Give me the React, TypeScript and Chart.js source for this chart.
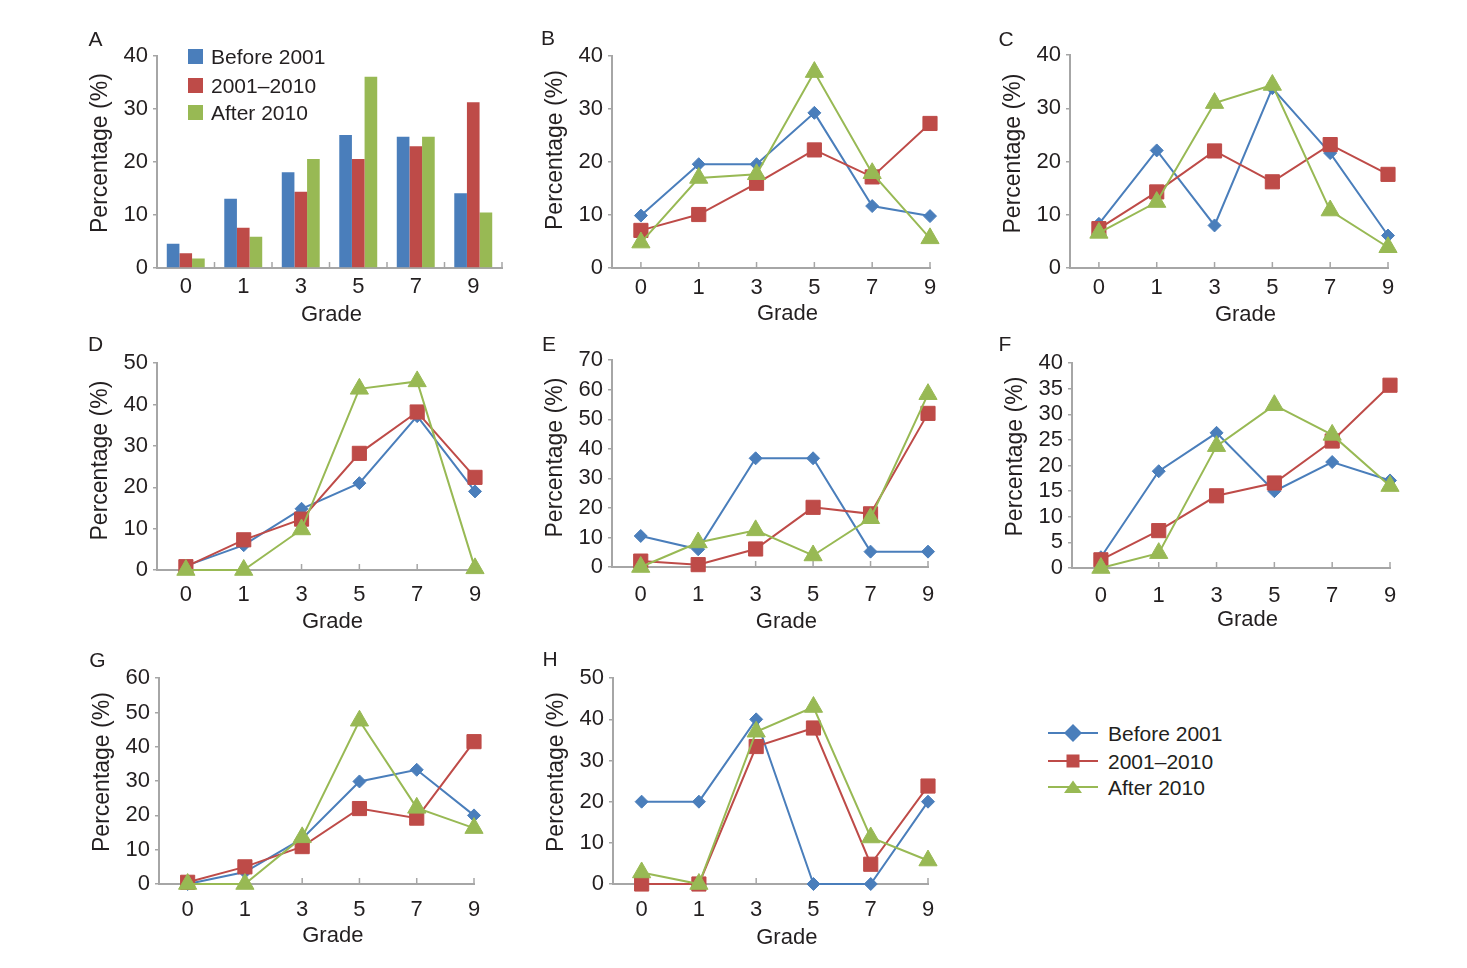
import { useEffect, useRef } from "react"
import { Chart, registerables } from "chart.js"

Chart.register(...registerables)

// grades on the x axis and the three time periods
const gradeLabels = ["0", "1", "3", "5", "7", "9"]
const seriesNames = ["Before 2001", "2001–2010", "After 2010"]
const seriesColors = ["#4a7ebb", "#be4b48", "#98b954"]
const pointStyles = ["rectRot", "rect", "triangle"]
const pointSizes = [6.5, 10, 10.5]

// panel A (bars)
const aBefore2001 = [4.6, 13.1, 18.1, 25.1, 24.8, 14.1]
const a2001to2010 = [2.8, 7.6, 14.4, 20.6, 23.0, 31.3]
const aAfter2010 = [1.8, 5.9, 20.6, 36.1, 24.8, 10.5]

// panels B-H (lines)
const bBefore2001 = [9.9, 19.6, 19.6, 29.3, 11.7, 9.8]
const b2001to2010 = [7.1, 10.1, 16.0, 22.3, 17.2, 27.3]
const bAfter2010 = [4.8, 17.0, 17.7, 37.0, 17.9, 5.6]

const cBefore2001 = [8.3, 22.1, 8.0, 33.8, 21.6, 6.1]
const c2001to2010 = [7.4, 14.3, 22.0, 16.2, 23.2, 17.6]
const cAfter2010 = [6.6, 12.4, 31.0, 34.4, 10.8, 3.9]

const dBefore2001 = [1.0, 6.0, 14.8, 21.0, 37.2, 19.0]
const d2001to2010 = [0.8, 7.3, 12.3, 28.2, 38.2, 22.4]
const dAfter2010 = [0, 0, 9.8, 43.8, 45.6, 0.4]

const eBefore2001 = [10.5, 6.0, 36.8, 36.8, 5.2, 5.2]
const e2001to2010 = [2.0, 0.8, 6.1, 20.2, 18.0, 52.0]
const eAfter2010 = [0, 8.3, 12.4, 3.9, 16.5, 58.5]

const fBefore2001 = [2.1, 18.9, 26.4, 15.0, 20.7, 17.1]
const f2001to2010 = [1.6, 7.3, 14.1, 16.6, 24.8, 35.7]
const fAfter2010 = [0, 2.9, 23.8, 31.8, 26.0, 16.0]

const gBefore2001 = [0, 3.5, 13.2, 29.9, 33.3, 20.0]
const g2001to2010 = [0.5, 5.0, 10.9, 22.0, 19.2, 41.5]
const gAfter2010 = [0, 0, 13.6, 47.6, 22.2, 16.3]

const hBefore2001 = [20, 20, 40, 0, 0, 20]
const h2001to2010 = [0, 0, 33.4, 37.9, 4.8, 23.8]
const hAfter2010 = [2.8, 0, 37.0, 43.0, 11.3, 5.7]

const fontFamily = '"Liberation Sans", Arial, sans-serif'
const ink = "#231f20"
const axisGray = "#a6a6a6"

// space around the plot area inside each canvas
const LEFT = 75
const TOP = 16
const RIGHT = 28
const BOTTOM = 64

interface PanelCfg {
  letter: string
  kind: "bar" | "line"
  series: number[][]
  yMax: number
  yStep: number
  axisX: number
  top: number
  bottom: number
  right: number
  labelGap: number
  titleGap: number
  yShift: number
  letterX: number
  letterY: number
}

const panels: PanelCfg[] = [
  { letter: "A", kind: "bar", series: [aBefore2001, a2001to2010, aAfter2010], yMax: 40, yStep: 10, axisX: 157, top: 54, bottom: 268, right: 502, labelGap: 19, titleGap: 47, yShift: -9, letterX: 95.5, letterY: 37.5 },
  { letter: "B", kind: "line", series: [bBefore2001, b2001to2010, bAfter2010], yMax: 40, yStep: 10, axisX: 612, top: 54, bottom: 268, right: 930, labelGap: 20, titleGap: 46, yShift: -12, letterX: 548, letterY: 37 },
  { letter: "C", kind: "line", series: [cBefore2001, c2001to2010, cAfter2010], yMax: 40, yStep: 10, axisX: 1070, top: 53, bottom: 268, right: 1388, labelGap: 20, titleGap: 47, yShift: -8, letterX: 1006, letterY: 37.5 },
  { letter: "D", kind: "line", series: [dBefore2001, d2001to2010, dAfter2010], yMax: 50, yStep: 10, axisX: 157, top: 361, bottom: 570, right: 475, labelGap: 25, titleGap: 52, yShift: -6, letterX: 95.5, letterY: 343 },
  { letter: "E", kind: "line", series: [eBefore2001, e2001to2010, eAfter2010], yMax: 70, yStep: 10, axisX: 612, top: 358, bottom: 567, right: 928, labelGap: 28, titleGap: 55, yShift: -6, letterX: 549, letterY: 343 },
  { letter: "F", kind: "line", series: [fBefore2001, f2001to2010, fAfter2010], yMax: 40, yStep: 5, axisX: 1072, top: 361, bottom: 568, right: 1390, labelGap: 28, titleGap: 52, yShift: -9, letterX: 1005, letterY: 343 },
  { letter: "G", kind: "line", series: [gBefore2001, g2001to2010, gAfter2010], yMax: 60, yStep: 10, axisX: 159, top: 676, bottom: 884, right: 474, labelGap: 26, titleGap: 52, yShift: -9, letterX: 97.5, letterY: 659 },
  { letter: "H", kind: "line", series: [hBefore2001, h2001to2010, hAfter2010], yMax: 50, yStep: 10, axisX: 613, top: 676, bottom: 884, right: 928, labelGap: 26, titleGap: 54, yShift: -9, letterX: 550, letterY: 658 },
]

// short tick marks pointing up into the plot from the x axis
const innerTicks = {
  id: "innerTicks",
  beforeDatasetsDraw(chart: any, _args: any, opts: any) {
    const x = chart.scales.x
    const ctx = chart.ctx
    const n = gradeLabels.length
    const positions: number[] = opts.bands
      ? Array.from({ length: n }, (_, i) => x.left + ((i + 1) * x.width) / n)
      : x.ticks.map((t: any) => x.getPixelForValue(t.value))
    ctx.save()
    ctx.strokeStyle = axisGray
    ctx.lineWidth = 1.5
    ctx.beginPath()
    positions.forEach((px) => {
      ctx.moveTo(px, x.top)
      ctx.lineTo(px, x.top - 6)
    })
    ctx.stroke()
    ctx.restore()
  },
}

// axis titles, placed like the original (Grade centred on the category marks)
const axisTitles = {
  id: "axisTitles",
  afterDraw(chart: any, _args: any, opts: any) {
    const { x, y } = chart.scales
    const ctx = chart.ctx
    ctx.save()
    ctx.fillStyle = ink
    ctx.textAlign = "center"
    ctx.textBaseline = "middle"
    ctx.font = `22px ${fontFamily}`
    const first = x.getPixelForTick(0)
    const last = x.getPixelForTick(x.ticks.length - 1)
    ctx.fillText("Grade", (first + last) / 2 + 2, x.top + opts.titleGap)
    ctx.font = `23px ${fontFamily}`
    ctx.translate(y.right - 56, (y.top + y.bottom) / 2 + opts.yShift)
    ctx.rotate(-Math.PI / 2)
    ctx.fillText("Percentage (%)", 0, 0)
    ctx.restore()
  },
}

function buildConfig(cfg: PanelCfg): any {
  const isBar = cfg.kind === "bar"
  const yScale = {
    min: 0,
    max: cfg.yMax,
    ticks: { stepSize: cfg.yStep, padding: 5, color: ink, font: { size: 22 }, autoSkip: false },
    grid: { drawOnChartArea: false, drawTicks: true, tickLength: 4, color: axisGray, lineWidth: 1.5 },
    border: { color: axisGray, width: 2 },
    afterFit: (s: any) => {
      s.width = LEFT
    },
  }
  const xCommon = {
    grid: { drawOnChartArea: false, drawTicks: false },
    border: { color: axisGray, width: 2 },
    afterFit: (s: any) => {
      s.height = BOTTOM
    },
  }
  const tickFont = { padding: cfg.labelGap - 13.2, color: ink, font: { size: 22 }, autoSkip: false, maxRotation: 0 }
  const pluginOpts = {
    legend: { display: false },
    tooltip: { enabled: false },
    innerTicks: { bands: isBar },
    axisTitles: { titleGap: cfg.titleGap, yShift: cfg.yShift },
  }
  const layout = { padding: { left: 0, top: TOP, right: RIGHT, bottom: 0 } }

  if (isBar) {
    return {
      type: "bar",
      data: {
        labels: gradeLabels,
        datasets: cfg.series.map((values, i) => ({
          label: seriesNames[i],
          data: values,
          backgroundColor: seriesColors[i],
          barPercentage: 1,
          categoryPercentage: 0.66,
        })),
      },
      options: {
        responsive: true,
        maintainAspectRatio: false,
        animation: false,
        layout,
        plugins: pluginOpts,
        scales: { x: { ...xCommon, offset: true, ticks: tickFont }, y: yScale },
      },
      plugins: [innerTicks, axisTitles],
    }
  }

  return {
    type: "line",
    data: {
      datasets: cfg.series.map((values, i) => ({
        label: seriesNames[i],
        data: values.map((y, idx) => ({ x: idx, y })),
        borderColor: seriesColors[i],
        backgroundColor: seriesColors[i],
        borderWidth: 2,
        pointStyle: pointStyles[i],
        pointRadius: pointSizes[i],
        pointBorderWidth: 1,
        pointBorderColor: seriesColors[i],
        pointBackgroundColor: seriesColors[i],
        tension: 0,
        clip: false,
        order: 3 - i,
      })),
    },
    options: {
      responsive: true,
      maintainAspectRatio: false,
      animation: false,
      layout,
      plugins: pluginOpts,
      scales: {
        x: {
          ...xCommon,
          type: "linear",
          min: -0.5,
          max: gradeLabels.length - 1,
          afterBuildTicks: (s: any) => {
            s.ticks = gradeLabels.map((_, i) => ({ value: i }))
          },
          ticks: { ...tickFont, callback: (v: number) => gradeLabels[v] ?? "" },
        },
        y: yScale,
      },
    },
    plugins: [innerTicks, axisTitles],
  }
}

function Panel({ cfg }: { cfg: PanelCfg }) {
  const chartRef = useRef<HTMLCanvasElement>(null)

  useEffect(() => {
    if (!chartRef.current) return
    Chart.defaults.font.family = fontFamily
    Chart.defaults.color = ink
    const chart = new Chart(chartRef.current, buildConfig(cfg))
    return () => chart.destroy()
  }, [cfg])

  const width = LEFT + (cfg.right - cfg.axisX) + RIGHT
  const height = TOP + (cfg.bottom - cfg.top) + BOTTOM
  return (
    <>
      <div style={{ position: "absolute", left: cfg.axisX - LEFT, top: cfg.top - TOP, width, height }}>
        <canvas ref={chartRef}></canvas>
      </div>
      <div
        style={{
          position: "absolute",
          left: cfg.letterX,
          top: cfg.letterY,
          transform: "translate(-50%, -50%)",
          fontSize: 21,
          lineHeight: 1,
        }}
      >
        {cfg.letter}
      </div>
    </>
  )
}

const textStyle = { position: "absolute" as const, fontSize: 21, lineHeight: "25px", whiteSpace: "nowrap" as const }

function BarLegend() {
  const rows = [56, 85, 112]
  return (
    <>
      {seriesNames.map((name, i) => (
        <div key={name}>
          <div style={{ position: "absolute", left: 188, top: rows[i] - 7.5, width: 15, height: 15, background: seriesColors[i] }} />
          <div style={{ ...textStyle, left: 211, top: rows[i] - 12.5 }}>{name}</div>
        </div>
      ))}
    </>
  )
}

function LineLegend() {
  const rows = [733, 761, 787]
  return (
    <>
      {seriesNames.map((name, i) => {
        const c = seriesColors[i]
        let marker
        if (i === 0) marker = <polygon points="25,1 34,10 25,19 16,10" fill={c} />
        else if (i === 1) marker = <rect x={18.5} y={3.5} width={13} height={13} fill={c} />
        else marker = <polygon points="25,3.5 34,16 16,16" fill={c} />
        return (
          <div key={name}>
            <svg style={{ position: "absolute", left: 1048, top: rows[i] - 10 }} width={52} height={20}>
              <line x1={0} y1={10} x2={50} y2={10} stroke={c} strokeWidth={2} />
              {marker}
            </svg>
            <div style={{ ...textStyle, left: 1108, top: rows[i] - 12.5 }}>{name}</div>
          </div>
        )
      })}
    </>
  )
}

export default function App() {
  return (
    <div
      style={{
        position: "absolute",
        left: 0,
        top: 0,
        width: 1467,
        height: 968,
        background: "#fff",
        color: ink,
        fontFamily,
      }}
    >
      {panels.map((p) => (
        <Panel key={p.letter} cfg={p} />
      ))}
      <BarLegend />
      <LineLegend />
    </div>
  )
}
